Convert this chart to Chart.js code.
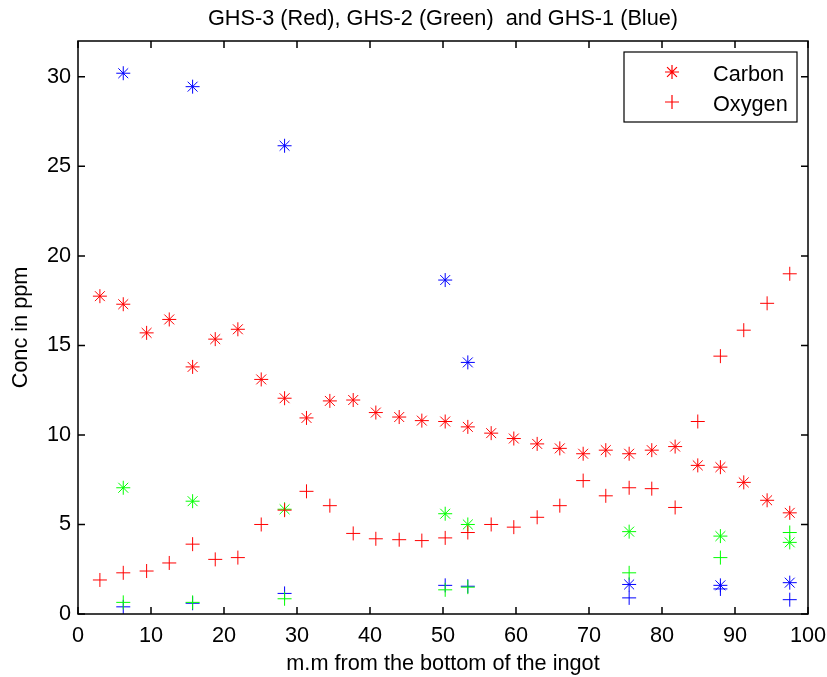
<!DOCTYPE html>
<html>
<head>
<meta charset="utf-8">
<script src="https://cdn.jsdelivr.net/npm/chart.js@4.4.1/dist/chart.umd.min.js"></script>
<style>
  html, body { margin: 0; padding: 0; background: #fff; }
  #wrap { width: 827px; height: 677px; }
</style>
</head>
<body>
<div id="wrap"><canvas id="concChart" width="827" height="677"></canvas></div>
<script>
// positions along the ingot (mm) for GHS-3
const redPositions = [3.0, 6.2, 9.4, 12.5, 15.7, 18.8, 21.9, 25.1, 28.3, 31.3, 34.5, 37.7, 40.8, 44.0, 47.1,
    50.3, 53.4, 56.6, 59.7, 62.9, 66.0, 69.2, 72.3, 75.5, 78.6, 81.8, 84.9, 88.0, 91.2, 94.4, 97.5];
const redCarbon = [17.75, 17.3, 15.7, 16.45, 13.8, 15.35, 15.9, 13.1, 12.05, 10.95, 11.9, 11.95, 11.25, 11.0, 10.8,
    10.75, 10.45, 10.1, 9.8, 9.5, 9.25, 8.95, 9.15, 8.95, 9.15, 9.35, 8.3, 8.2, 7.35, 6.35, 5.65];
const redOxygen = [1.9, 2.3, 2.4, 2.85, 3.9, 3.05, 3.15, 5.0, 5.8, 6.85, 6.05, 4.5, 4.2, 4.15, 4.1,
    4.25, 4.55, 5.0, 4.85, 5.4, 6.05, 7.45, 6.6, 7.05, 7.0, 5.95, 10.75, 14.4, 15.85, 17.35, 19.0];

// GHS-2 and GHS-1 were only sampled at 8 positions
const samplePositions = [6.2, 15.7, 28.3, 50.3, 53.4, 75.5, 88.0, 97.5];
const greenCarbon = [7.05, 6.3, 5.85, 5.6, 5.0, 4.6, 4.35, 4.0];
const greenOxygen = [0.65, 0.65, 0.85, 1.35, 1.5, 2.3, 3.15, 4.55];
const blueCarbon = [30.2, 29.45, 26.15, 18.65, 14.05, 1.65, 1.6, 1.75];
const blueOxygen = [0.4, 0.6, 1.15, 1.6, 1.55, 0.9, 1.4, 0.8];

const xTickValues = [0, 10, 20, 30, 40, 50, 60, 70, 80, 90, 100];
const yTickValues = [0, 5, 10, 15, 20, 25, 30];

const chartTitle = 'GHS-3 (Red), GHS-2 (Green)  and GHS-1 (Blue)';
const legendItems = [
    { label: 'Carbon', style: 'star', color: '#ff0000' },
    { label: 'Oxygen', style: 'cross', color: '#ff0000' },
];

const FONT = 'Liberation Sans, Arial, Helvetica, sans-serif';
const FONT_SIZE = 21.7;

Chart.defaults.font.family = FONT;
Chart.defaults.font.size = FONT_SIZE;
Chart.defaults.color = '#000';

function toPoints(xs, ys) {
    return xs.map((x, i) => ({ x: x, y: ys[i] }));
}

function series(xs, ys, color, style) {
    return {
        data: toPoints(xs, ys),
        borderColor: color,
        backgroundColor: color,
        pointStyle: style,
        pointRadius: 7,
        pointHoverRadius: 7,
        pointBorderWidth: 1,
        showLine: false,
    };
}

// matlab style box: inward ticks on all four sides, title over the axes, legend inside
const matlabAxes = {
    id: 'matlabAxes',
    afterDraw(chart) {
        const { ctx, chartArea: a, scales: { x, y } } = chart;
        ctx.save();
        ctx.strokeStyle = '#000';
        ctx.lineWidth = 1.5;
        ctx.beginPath();
        x.ticks.forEach(t => {
            const px = x.getPixelForValue(t.value);
            ctx.moveTo(px, a.bottom); ctx.lineTo(px, a.bottom - 7);
            ctx.moveTo(px, a.top); ctx.lineTo(px, a.top + 7);
        });
        y.ticks.forEach(t => {
            const py = y.getPixelForValue(t.value);
            ctx.moveTo(a.left, py); ctx.lineTo(a.left + 7, py);
            ctx.moveTo(a.right, py); ctx.lineTo(a.right - 7, py);
        });
        ctx.stroke();
        ctx.strokeRect(a.left, a.top, a.width, a.height);

        ctx.font = FONT_SIZE + 'px ' + FONT;
        ctx.fillStyle = '#000';
        ctx.textBaseline = 'alphabetic';
        ctx.textAlign = 'center';
        ctx.fillText(chartTitle, (a.left + a.right) / 2, a.top - 16);

        // legend
        const boxW = 173, boxH = 70;
        const bx = a.right - 11 - boxW, by = a.top + 11;
        ctx.fillStyle = '#fff';
        ctx.fillRect(bx, by, boxW, boxH);
        ctx.lineWidth = 1.2;
        ctx.strokeRect(bx, by, boxW, boxH);
        legendItems.forEach((item, i) => {
            const cy = by + 20 + i * 30;
            ctx.strokeStyle = item.color;
            ctx.fillStyle = item.color;
            Chart.helpers.drawPoint(ctx, { pointStyle: item.style, radius: 7, borderWidth: 1, rotation: 0 }, bx + 48, cy);
            ctx.fillStyle = '#000';
            ctx.textAlign = 'left';
            ctx.fillText(item.label, bx + 89, cy + 8.5);
        });
        ctx.restore();
    }
};

const concChart = new Chart(document.getElementById('concChart'), {
    type: 'scatter',
    data: {
        datasets: [
            series(redPositions, redCarbon, '#ff0000', 'star'),
            series(redPositions, redOxygen, '#ff0000', 'cross'),
            series(samplePositions, greenCarbon, '#00ff00', 'star'),
            series(samplePositions, greenOxygen, '#00ff00', 'cross'),
            series(samplePositions, blueCarbon, '#0000ff', 'star'),
            series(samplePositions, blueOxygen, '#0000ff', 'cross'),
        ]
    },
    options: {
        responsive: false,
        animation: false,
        layout: {
            padding: { left: 0, right: 19, top: 41, bottom: 0 }
        },
        scales: {
            x: {
                type: 'linear',
                min: 0,
                max: 100,
                afterBuildTicks: (scale) => { scale.ticks = xTickValues.map(v => ({ value: v })); },
                afterFit: (scale) => {
                    scale.height = 63;
                    scale.paddingLeft = 0;
                    scale.paddingRight = 0;
                },
                grid: { display: false, drawTicks: false },
                border: { display: false },
                ticks: { padding: 9, maxRotation: 0, autoSkip: false },
                title: {
                    display: true,
                    text: 'm.m from the bottom of the ingot',
                    padding: { top: 0, bottom: 0 }
                }
            },
            y: {
                type: 'linear',
                min: 0,
                max: 32,
                afterBuildTicks: (scale) => { scale.ticks = yTickValues.map(v => ({ value: v })); },
                afterFit: (scale) => {
                    scale.width = 78;
                    scale.paddingTop = 0;
                    scale.paddingBottom = 0;
                },
                grid: { display: false, drawTicks: false },
                border: { display: false },
                ticks: { padding: 7 },
                title: {
                    display: true,
                    text: 'Conc in ppm',
                    padding: { top: 8, bottom: 0 }
                }
            }
        },
        plugins: {
            legend: { display: false },
            tooltip: { enabled: false },
            title: { display: false }
        }
    },
    plugins: [matlabAxes]
});
</script>
</body>
</html>
